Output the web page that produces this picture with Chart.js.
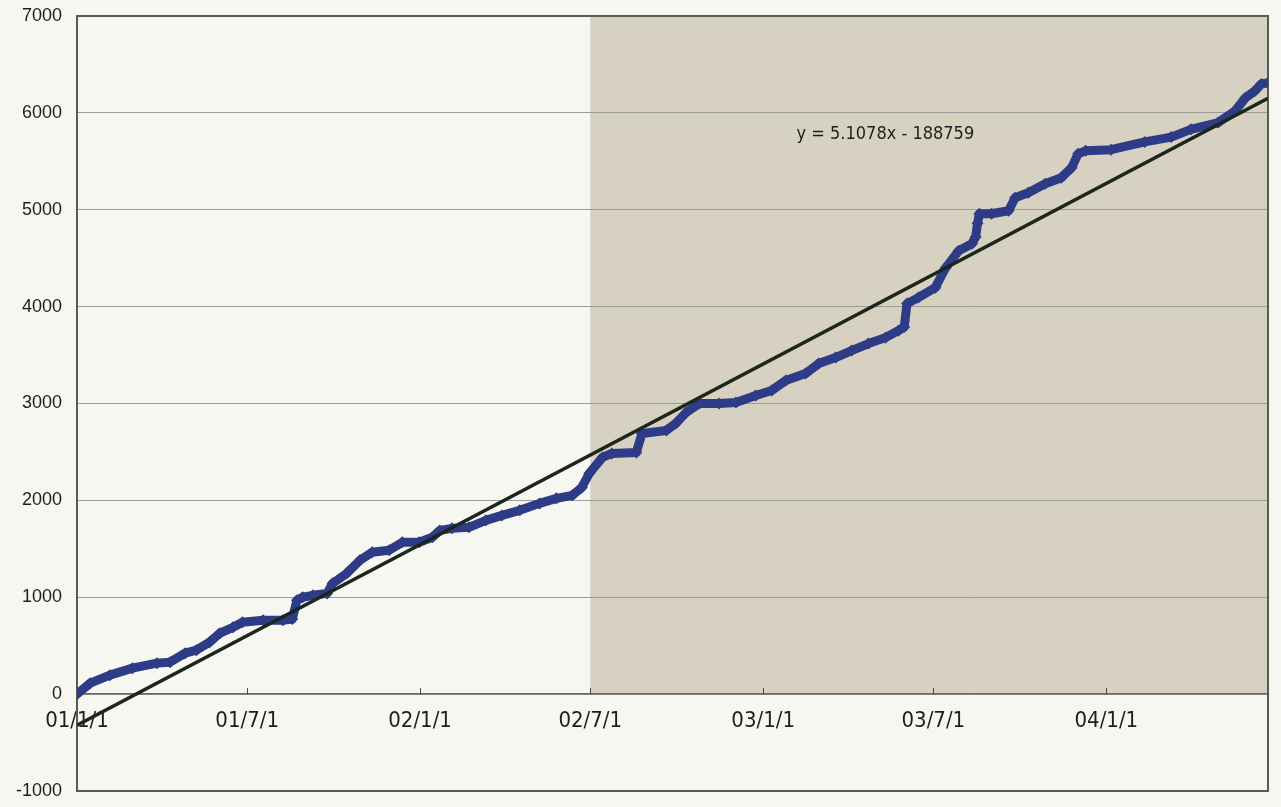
<!DOCTYPE html>
<html>
<head>
<meta charset="utf-8">
<title>累計</title>
<script src="https://cdn.jsdelivr.net/npm/chart.js@4.4.1/dist/chart.umd.min.js"></script>
<style>
  body { margin: 0; background: #f7f7f2; }
  canvas { display: block; }
</style>
</head>
<body>
<canvas id="total" width="1281" height="807"></canvas>
<script>
var startDate = '2001-01-01';

// days counted from startDate, and the running total on that day
var days = [
  0, 14, 35, 59, 85, 99, 115, 127, 141, 152,
  166, 176, 198, 219, 229, 234, 240, 251, 266, 272,
  287, 301, 314, 332, 346, 364, 378, 386, 399, 417,
  435, 452, 471, 492, 510, 527, 537, 545, 559, 569,
  595, 601, 627, 637, 648, 662, 683, 701, 722, 739,
  754, 775, 789, 807, 824, 842, 860, 874, 880, 883,
  895, 913, 924, 938, 952, 956, 958, 960, 973, 991,
  998, 1012, 1030, 1047, 1058, 1065, 1073, 1100, 1136, 1164,
  1185, 1214, 1232, 1243, 1253, 1260, 1267
];
var totals = [
  0, 113, 196, 268, 320, 330, 423, 454, 536, 629,
  690, 742, 763, 763, 775, 970, 1000, 1020, 1040, 1144,
  1247, 1381, 1464, 1485, 1567, 1567, 1619, 1690, 1711, 1722,
  1794, 1845, 1897, 1969, 2021, 2052, 2134, 2278, 2443, 2485,
  2495, 2691, 2722, 2794, 2907, 3000, 3000, 3010, 3082, 3134,
  3237, 3309, 3412, 3474, 3546, 3619, 3680, 3753, 3790, 4031,
  4093, 4196, 4400, 4577, 4649, 4720, 4860, 4959, 4959, 4990,
  5124, 5175, 5268, 5330, 5433, 5577, 5608, 5620, 5700, 5750,
  5830, 5900, 6021, 6155, 6227, 6299, 6310
];

// x axis labels
var tickDates = ['2001-01-01', '2001-07-01', '2002-01-01', '2002-07-01', '2003-01-01', '2003-07-01', '2004-01-01'];
var tickLabels = ['01/1/1', '01/7/1', '02/1/1', '02/7/1', '03/1/1', '03/7/1', '04/1/1'];

// linear trend (x = Excel date serial)
var slope = 5.1078;
var intercept = -188759;
var trendText = 'y = 5.1078x - 188759';
var trendTextDate = '2003-05-11';
var trendTextValue = 5780;

// second period is shaded
var shadeFrom = '2002-07-01';

function toSerial(s){
  var p = s.split('-');
  return (Date.UTC(+p[0], p[1] - 1, +p[2]) - Date.UTC(1899, 11, 30)) / 86400000;
}

var start = toSerial(startDate);
var points = [];
for (var i = 0; i < days.length; i++){
  points.push({x: start + days[i], y: totals[i]});
}
var xMin = points[0].x;
var xMax = points[points.length - 1].x;
var trendPoints = [
  {x: xMin, y: slope * xMin + intercept},
  {x: xMax, y: slope * xMax + intercept}
];

var narrowFont = '"Liberation Sans Narrow", "DejaVu Sans Condensed", sans-serif';

// keep tick label overhang from pushing the plot area inwards
function noPadding(scale){
  scale.paddingTop = 0;
  scale.paddingBottom = 0;
}

var backdrop = {
  id: 'backdrop',
  beforeDraw: function(chart){
    var ctx = chart.ctx, a = chart.chartArea;
    var x = chart.scales.x, y = chart.scales.y;
    ctx.save();
    ctx.fillStyle = '#f7f7f2';
    ctx.fillRect(0, 0, chart.width, chart.height);
    var left = x.getPixelForValue(toSerial(shadeFrom));
    var zero = y.getPixelForValue(0);
    ctx.fillStyle = '#d7d1c1';
    ctx.fillRect(left, a.top, a.right - left, zero - a.top);
    ctx.restore();
  },
  beforeDatasetsDraw: function(chart){
    var ctx = chart.ctx, a = chart.chartArea;
    var x = chart.scales.x, zero = chart.scales.y.getPixelForValue(0);
    ctx.save();
    ctx.strokeStyle = '#5a5a55';
    ctx.lineWidth = 2;
    ctx.strokeRect(a.left, a.top, a.right - a.left, a.bottom - a.top);
    // small tick marks standing up from the zero line
    ctx.strokeStyle = '#444';
    ctx.lineWidth = 1;
    ctx.beginPath();
    tickDates.forEach(function(d){
      var px = Math.round(x.getPixelForValue(toSerial(d))) + 0.5;
      ctx.moveTo(px, zero);
      ctx.lineTo(px, zero - 6);
    });
    ctx.stroke();
    ctx.restore();
  },
  afterDatasetsDraw: function(chart){
    var ctx = chart.ctx;
    var px = chart.scales.x.getPixelForValue(toSerial(trendTextDate));
    var py = chart.scales.y.getPixelForValue(trendTextValue);
    ctx.save();
    ctx.fillStyle = '#1e1e1e';
    ctx.font = '18px ' + narrowFont;
    ctx.textAlign = 'center';
    ctx.textBaseline = 'middle';
    ctx.fillText(trendText, px, py);
    ctx.restore();
  }
};

new Chart(document.getElementById('total'), {
  type: 'line',
  data: {
    datasets: [
      {
        label: 'trend',
        data: trendPoints,
        borderColor: '#1b271b',
        borderWidth: 3.5,
        pointRadius: 0,
        order: 1
      },
      {
        label: 'total',
        data: points,
        borderColor: '#2e3b86',
        backgroundColor: '#2e3b86',
        borderWidth: 9,
        borderJoinStyle: 'round',
        pointStyle: 'rectRot',
        pointRadius: 6,
        pointBorderWidth: 0,
        order: 2
      }
    ]
  },
  plugins: [backdrop],
  options: {
    responsive: false,
    animation: false,
    layout: {padding: {top: 16, right: 13, bottom: 16, left: 0}},
    plugins: {
      legend: {display: false},
      tooltip: {enabled: false}
    },
    scales: {
      x: {
        type: 'linear',
        position: {y: 0},
        min: xMin,
        max: xMax,
        afterBuildTicks: function(scale){
          scale.ticks = tickDates.map(function(d){ return {value: toSerial(d)}; });
        },
        afterFit: noPadding,
        ticks: {
          autoSkip: false,
          maxRotation: 0,
          padding: 14,
          color: '#1e1e1e',
          font: {family: narrowFont, size: 22},
          callback: function(value, index){ return tickLabels[index]; }
        },
        grid: {drawOnChartArea: false, drawTicks: false},
        border: {color: '#6a6a64', width: 1.5}
      },
      y: {
        min: -1000,
        max: 7000,
        afterFit: function(scale){
          scale.width = 77;
          noPadding(scale);
        },
        ticks: {
          stepSize: 1000,
          padding: 15,
          color: '#1e1e1e',
          font: {family: '"Liberation Sans", Arial, sans-serif', size: 18},
          callback: function(value){ return String(value); }
        },
        grid: {color: '#9c9c94', drawTicks: false},
        border: {color: '#5a5a55', width: 2}
      }
    }
  }
});
</script>
</body>
</html>
